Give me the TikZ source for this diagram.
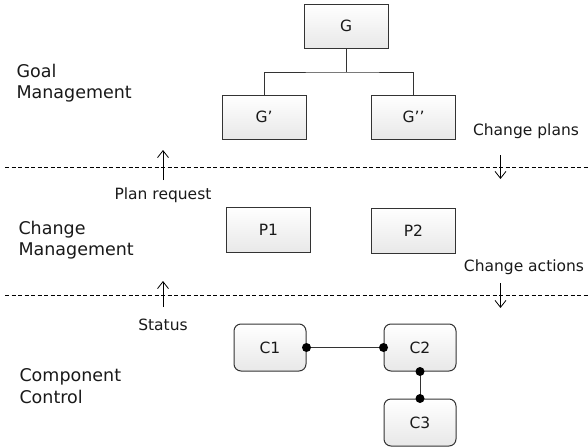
\documentclass[tikz,border=0pt]{standalone}
\usepackage{fontspec}
\setmainfont{DejaVu Sans}
\usetikzlibrary{arrows.meta}
\begin{document}
\begin{tikzpicture}[x=1pt,y=-1pt,
  every node/.style={font=\fontsize{15.5}{18}\selectfont, text=black!90},
  gbox/.style={draw=black!80, line width=1pt, top color=white, bottom color=black!9, minimum width=84pt, minimum height=44pt, inner sep=0pt},
  cbox/.style={gbox, rounded corners=7pt, minimum width=72pt, minimum height=47pt},
  lbl/.style={align=left, anchor=west, font=\fontsize{17.5}{21.5}\selectfont},
  sep/.style={dash pattern=on 4pt off 2.5pt, line width=0.8pt},
  flow/.style={line width=0.8pt, -{Straight Barb[length=7pt,width=11pt]}},
  link/.style={line width=1pt, black!80},
  dot/.style={circle, fill=black, inner sep=0pt, minimum size=9pt}
]
\useasboundingbox (0,0) rectangle (588,447);
% section labels
\node[lbl] (lg) at (13,83) {Goal\\Management};
\node[lbl] (lc) at (15,240) {Change\\Management};
\node[lbl] (lcc) at (16,386) {Component\\Control};
% goal tree
\node[gbox] (G) at (346,26) {G};
\node[gbox] (G1) at (264,117) {G’};
\node[gbox] (G2) at (413.5,117) {G’’};
\coordinate (bj) at (346,72);
\draw[link] (G.south) -- (bj);
\draw[link] (G1.north) |- (bj) -| (G2.north);
% separators
\coordinate (s1a) at (5,167); \coordinate (s1b) at (588,167);
\coordinate (s2a) at (5,295); \coordinate (s2b) at (588,295);
\draw[sep] (s1a) -- (s1b);
\draw[sep] (s2a) -- (s2b);
% plan boxes
\node[gbox, minimum height=45pt] (P1) at (268.5,229.5) {P1};
\node[gbox, minimum height=45pt] (P2) at (413.5,230.5) {P2};
% arrows and labels
\coordinate (pr0) at (163,180); \coordinate (pr1) at (163,150);
\draw[flow] (pr0) -- (pr1);
\node (prl) at (163,195) {Plan request};
\coordinate (cp0) at (500.5,155); \coordinate (cp1) at (500.5,179);
\draw[flow] (cp0) -- (cp1);
\node (cpl) at (526,131) {Change plans};
\coordinate (st0) at (163,307); \coordinate (st1) at (163,281);
\draw[flow] (st0) -- (st1);
\node (stl) at (163,325) {Status};
\coordinate (ca0) at (500.5,283); \coordinate (ca1) at (500.5,308);
\draw[flow] (ca0) -- (ca1);
\node (cal) at (524,267) {Change actions};
% components
\node[cbox] (C1) at (270,347.5) {C1};
\node[cbox] (C2) at (420,347.5) {C2};
\node[cbox] (C3) at (420,422.5) {C3};
\draw[link] (C1.east) -- (C2.west);
\draw[link] (C2.south) -- (C3.north);
\node[dot] (d1) at (C1.east) {};
\node[dot] (d2) at (C2.west) {};
\node[dot] (d3) at (C2.south) {};
\node[dot] (d4) at (C3.north) {};
\end{tikzpicture}
\end{document}
